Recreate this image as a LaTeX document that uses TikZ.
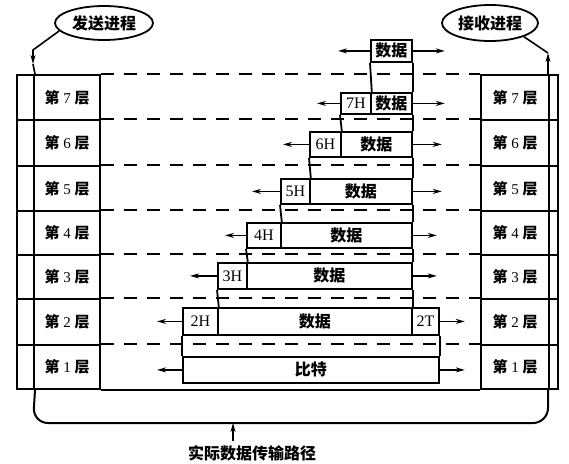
\documentclass[tikz,border=0pt]{standalone}
\usepackage{fontspec}
\setmainfont{Liberation Serif}
\newfontfamily\cjk{Noto Sans CJK SC}
\usetikzlibrary{shapes.geometric,arrows.meta}
\newcommand{\zh}[1]{{\cjk\bfseries #1}}
\begin{document}
\begin{tikzpicture}[x=1pt,y=-1pt,
  cell/.style={draw,line width=1.8pt,inner sep=0pt,anchor=north west,font=\fontsize{16}{17}\selectfont},
  layer/.style={draw,line width=2pt,inner sep=0pt,anchor=north west,font=\fontsize{15}{17}\selectfont},
  arr/.style={line width=1.6pt,-{Stealth[length=9pt,width=5pt]}},
  sep/.style={line width=1.6pt,dash pattern=on 13pt off 10pt},
  proc/.style={draw,ellipse,line width=1.8pt,inner sep=0pt,font=\fontsize{16}{17}\selectfont},
  thick line/.style={line width=2pt}]
\useasboundingbox (0,0) rectangle (569,463);

% left stack
\node[layer,minimum width=17,minimum height=45] (ls7) at (16,74) {};
\node[layer,minimum width=17,minimum height=46] (ls6) at (16,119) {};
\node[layer,minimum width=17,minimum height=45] (ls5) at (16,165) {};
\node[layer,minimum width=17,minimum height=44] (ls4) at (16,210) {};
\node[layer,minimum width=17,minimum height=44] (ls3) at (16,254) {};
\node[layer,minimum width=17,minimum height=46] (ls2) at (16,298) {};
\node[layer,minimum width=17,minimum height=44] (ls1) at (16,344) {};
\node[layer,minimum width=66,minimum height=45] (lt7) at (33,74) {\zh{第} 7 \zh{层}};
\node[layer,minimum width=66,minimum height=46] (lt6) at (33,119) {\zh{第} 6 \zh{层}};
\node[layer,minimum width=66,minimum height=45] (lt5) at (33,165) {\zh{第} 5 \zh{层}};
\node[layer,minimum width=66,minimum height=44] (lt4) at (33,210) {\zh{第} 4 \zh{层}};
\node[layer,minimum width=66,minimum height=44] (lt3) at (33,254) {\zh{第} 3 \zh{层}};
\node[layer,minimum width=66,minimum height=46] (lt2) at (33,298) {\zh{第} 2 \zh{层}};
\node[layer,minimum width=66,minimum height=44] (lt1) at (33,344) {\zh{第} 1 \zh{层}};

% right stack
\node[layer,minimum width=68,minimum height=45] (rt7) at (480,74) {\zh{第} 7 \zh{层}};
\node[layer,minimum width=68,minimum height=46] (rt6) at (480,119) {\zh{第} 6 \zh{层}};
\node[layer,minimum width=68,minimum height=45] (rt5) at (480,165) {\zh{第} 5 \zh{层}};
\node[layer,minimum width=68,minimum height=44] (rt4) at (480,210) {\zh{第} 4 \zh{层}};
\node[layer,minimum width=68,minimum height=44] (rt3) at (480,254) {\zh{第} 3 \zh{层}};
\node[layer,minimum width=68,minimum height=46] (rt2) at (480,298) {\zh{第} 2 \zh{层}};
\node[layer,minimum width=68,minimum height=44] (rt1) at (480,344) {\zh{第} 1 \zh{层}};
\node[layer,minimum width=9,minimum height=45] (rs7) at (548,74) {};
\node[layer,minimum width=9,minimum height=46] (rs6) at (548,119) {};
\node[layer,minimum width=9,minimum height=45] (rs5) at (548,165) {};
\node[layer,minimum width=9,minimum height=44] (rs4) at (548,210) {};
\node[layer,minimum width=9,minimum height=44] (rs3) at (548,254) {};
\node[layer,minimum width=9,minimum height=46] (rs2) at (548,298) {};
\node[layer,minimum width=9,minimum height=44] (rs1) at (548,344) {};

% dashed layer separators
\foreach \k in {7,6,5,4,3,2,1}
  \draw[sep] (lt\k.north east) -- (rt\k.north west);
\draw[thick line] (lt1.south east) -- (rt1.south west);

% processes
\node[proc,minimum width=98,minimum height=34] (send) at (104,23) {\zh{发送进程}};
\node[proc,minimum width=96,minimum height=36] (recv) at (490,23) {\zh{接收进程}};
\coordinate (lbend) at (33,50);
\coordinate (ltip) at (33,64);
\coordinate (rtip) at (548,53);
\draw[arr] (send.190) -- (lbend) -- (ltip);
\draw[line width=1.6pt] (ltip) -- (ls7.north east);
\draw[arr] (rs7.north west) -- (rtip);
\draw[line width=1.6pt] (rtip) -- (recv.-22);

% bottom path
\coordinate (bl) at (33,423);
\coordinate (br) at (548,423);
\draw[thick line,rounded corners=15pt] (ls1.south east) -- (bl) -- (br) -- (rs1.south west);
\node[font=\fontsize{16}{17}\selectfont] (pathlbl) at (252,453) {\zh{实际数据传输路径}};
\coordinate (pa) at (233,441);
\draw[arr] (pa) -- (pa |- bl);

% data units
\node[cell,minimum width=41,minimum height=22] (d7) at (370,39) {\zh{数据}};
\node[cell,minimum width=30,minimum height=21] (h7) at (340,92) {7H};
\node[cell,minimum width=41,minimum height=21] (d6) at (370,92) {\zh{数据}};
\node[cell,minimum width=31,minimum height=25] (h6) at (309,131) {6H};
\node[cell,minimum width=71,minimum height=25] (d5) at (340,131) {\zh{数据}};
\node[cell,minimum width=29,minimum height=25] (h5) at (280,178) {5H};
\node[cell,minimum width=102,minimum height=25] (d4) at (309,178) {\zh{数据}};
\node[cell,minimum width=34,minimum height=25] (h4) at (246,222) {4H};
\node[cell,minimum width=131,minimum height=25] (d3) at (280,222) {\zh{数据}};
\node[cell,minimum width=29,minimum height=26] (h3) at (217,262) {3H};
\node[cell,minimum width=165,minimum height=26] (d2) at (246,262) {\zh{数据}};
\node[cell,minimum width=35,minimum height=27] (h2) at (182,307) {2H};
\node[cell,minimum width=194,minimum height=27] (d1) at (217,307) {\zh{数据}};
\node[cell,minimum width=27,minimum height=27] (t2) at (411,307) {2T};
\node[cell,minimum width=256,minimum height=26] (bit) at (182,356) {\zh{比特}};

% column sides
\begin{scope}[line width=1.8pt]
\draw (d7.south west) -- (h7.north east);  \draw (d7.south east) -- (d6.north east);
\draw (h7.south west) -- (h6.north east);  \draw (d6.south east) -- (d5.north east);
\draw (h6.south west) -- (h5.north east);  \draw (d5.south east) -- (d4.north east);
\draw (h5.south west) -- (h4.north east);  \draw (d4.south east) -- (d3.north east);
\draw (h4.south west) -- (h3.north east);  \draw (d3.south east) -- (d2.north east);
\draw (h3.south west) -- (h2.north east);  \draw (d2.south east) -- (d1.north east);
\draw (h2.south west) -- (bit.north west); \draw (t2.south east) -- (bit.north east);
\end{scope}

% arrows
\draw[arr] (d7.west) -- ++(-32,0);  \draw[arr] (d7.east) -- ++(32,0);
\draw[arr] (h7.west) -- ++(-23,0);  \draw[arr] (d6.east) -- ++(32,0);
\draw[arr] (h6.west) -- ++(-26,0);  \draw[arr] (d5.east) -- ++(29,0);
\draw[arr] (h5.west) -- ++(-28,0);  \draw[arr] (d4.east) -- ++(29,0);
\draw[arr] (h4.west) -- ++(-21,0);  \draw[arr] (d3.east) -- ++(24,0);
\draw[arr] (h3.west) -- ++(-27,0);  \draw[arr] (d2.east) -- ++(24,0);
\draw[arr] (h2.west) -- ++(-25,0);  \draw[arr] (t2.east) -- ++(25,0);
\draw[arr] (bit.west) -- ++(-25,0); \draw[arr] (bit.east) -- ++(25,0);
\end{tikzpicture}
\end{document}
